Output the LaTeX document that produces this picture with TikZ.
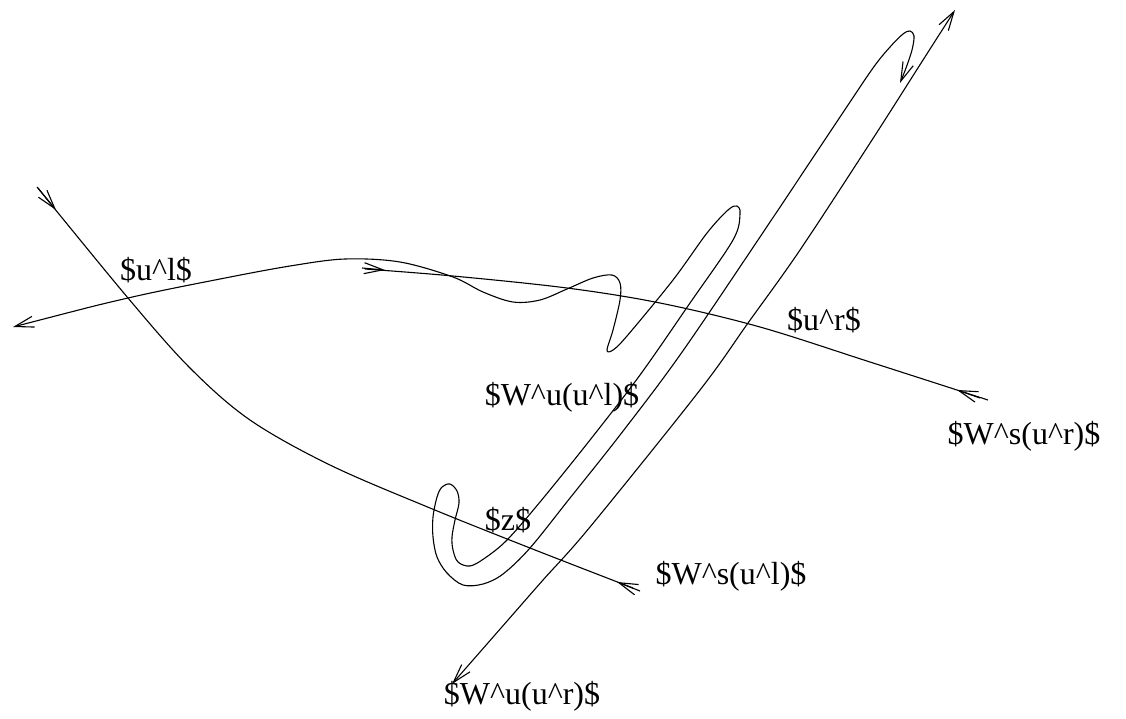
\documentclass[tikz,border=0pt]{standalone}
\usepackage{fontspec}
\setmainfont{Liberation Serif}
\usetikzlibrary{arrows.meta}
\begin{document}
\begin{tikzpicture}[x=1pt,y=-1pt,
  curve/.style={line width=1.1pt, line join=round},
  barb/.style={line width=1.1pt, -{Straight Barb[length=19pt,width=11pt]}},
  dbarb/.style={line width=1.1pt, {Straight Barb[length=19pt,width=11pt]}-{Straight Barb[length=19pt,width=11pt]}},
  lab/.style={inner sep=0pt, font=\fontsize{32}{38}\selectfont}]
\useasboundingbox (0,0) rectangle (1126,718);
\coordinate (ul) at (128,298);
\coordinate (ur) at (748,323);
% W^s(u^l)
\draw[curve] plot[smooth, tension=0.55] coordinates {(37,187) (128,298) (190,368) (250,420) (330,465) (430,508) (530,548) (633,588)};
\coordinate (a1s) at (38,188);
\coordinate (a1e) at (56,210);
\draw[barb] (a1s) -- (a1e);
\coordinate (a2s) at (640,591);
\coordinate (a2e) at (617,582);
\draw[barb] (a2s) -- (a2e);
% W^u(u^l)
\draw[curve, dbarb] plot[smooth, tension=0.55] coordinates {(13,327) (128,298) (220,279) (290,266) (345,259) (400,262) (453,277) (483,292) (513,302) (540,300) (567,289) (593,278) (612,275) (620,283) (620,300) (613,330) (607,350) (613,350) (627,336) (673,280) (707,233) (728,210) (737,206) (740,214) (733,240) (690,303) (640,375) (590,440) (540,502) (507,540) (485,558) (470,566) (458,562) (453,550) (452,537) (455,520) (459,503) (457,491) (450,484) (442,487) (437,497) (433,517) (433,537) (437,557) (447,573) (463,585) (483,584) (503,574) (530,548) (570,498) (620,435) (680,355) (760,237) (840,117) (873,68) (890,47) (903,34) (910,31) (914,36) (912,50) (906,68) (900,83)};
% W^s(u^r)
\draw[curve] plot[smooth, tension=0.55] coordinates {(365,269) (453,276) (567,288) (660,303) (760,327) (870,362) (988,400)};
\coordinate (a3s) at (362,268);
\coordinate (a3e) at (385,270);
\draw[barb] (a3s) -- (a3e);
\coordinate (a4s) at (980,398);
\coordinate (a4e) at (957,390);
\draw[barb] (a4s) -- (a4e);
% W^u(u^r)
\draw[curve, dbarb] plot[smooth, tension=0.55] coordinates {(452,684) (508,620) (543,580) (590,527) (700,390) (748,323) (800,250) (872,140) (923,60) (955,10)};
% labels
\node[lab] (lul) at (156,270) {\$u\textasciicircum l\$};
\node[lab] (lur) at (824,320) {\$u\textasciicircum r\$};
\node[lab] (lwuul) at (562,397) {\$W\textasciicircum u(u\textasciicircum l)\$};
\node[lab] (lwsur) at (1024,436) {\$W\textasciicircum s(u\textasciicircum r)\$};
\node[lab] (lz) at (508,520) {\$z\$};
\node[lab] (lwsul) at (731,576) {\$W\textasciicircum s(u\textasciicircum l)\$};
\node[lab] (lwuur) at (522,696) {\$W\textasciicircum u(u\textasciicircum r)\$};
\end{tikzpicture}
\end{document}
